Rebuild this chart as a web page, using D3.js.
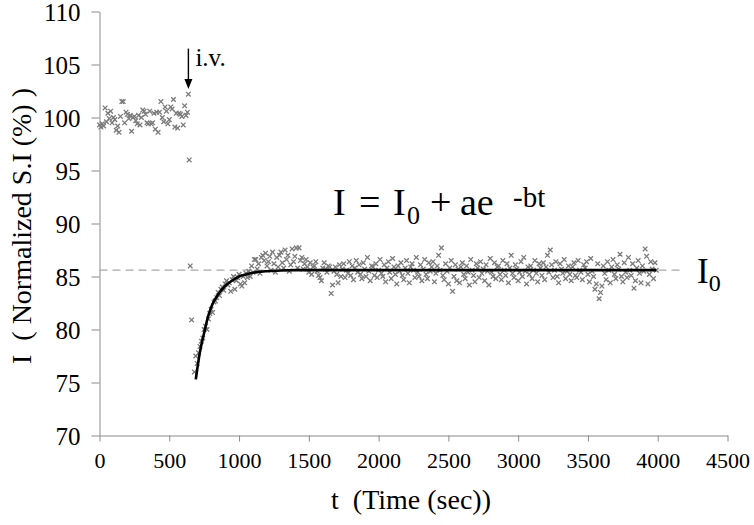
<!DOCTYPE html>
<html><head><meta charset="utf-8">
<script src="https://cdn.jsdelivr.net/npm/d3@7"></script>
<style>html,body{margin:0;padding:0;background:#fff}svg{display:block}</style>
</head><body>
<svg id="chart" width="754" height="525" font-family="'Liberation Serif', 'Times New Roman', serif"></svg>
<script>
// ---- data ----
const xTicks = [0,500,1000,1500,2000,2500,3000,3500,4000,4500];
const yTicks = [70,75,80,85,90,95,100,105,110];
const preStart = 0, preStep = 10;
const preValues = [99.3,99.1,99.4,99.2,100.9,99.6,100.4,99.9,100.6,99.5,100.0,99.8,98.8,99.2,98.6,100.1,101.5,101.5,99.5,100.5,100.3,99.9,100.2,98.7,100.0,100.1,99.7,99.4,100.2,99.3,100.0,100.7,100.6,100.3,99.5,99.4,100.6,99.4,99.5,100.4,98.9,100.5,98.6,100.5,101.5,100.0,99.6,101.0,100.6,99.4,99.8,101.0,100.8,101.7,99.1,100.4,99.0,100.4,100.3,100.1,99.3,101.1,100.2,100.5];
const transTimes = [637,643,650,660];
const transValues = [102.2,96.0,86.0,80.9];
const postStart = 680, postStep = 10;
const postValues = [
76.0,77.5,76.8,77.8,78.4,78.9,79.2,80.0,80.3,80.0,
81.0,81.5,81.9,81.6,82.6,82.7,83.0,83.5,83.2,83.8,
84.0,83.7,84.3,84.6,84.2,84.4,83.6,84.7,85.0,83.8,
84.6,84.9,85.2,84.3,84.1,85.0,84.4,85.3,84.9,85.5,
85.0,86.0,85.4,86.6,86.6,85.7,86.2,85.3,86.8,87.0,
86.5,87.2,86.0,86.4,86.9,85.6,87.3,86.2,85.4,86.8,
85.9,87.0,87.3,86.3,85.8,87.5,86.6,87.0,85.5,86.1,
87.6,86.4,86.9,87.7,85.8,87.7,86.5,86.8,85.7,86.2,
86.6,85.9,85.4,86.3,85.2,85.9,86.0,86.4,85.5,85.1,
84.9,84.6,85.8,86.3,85.7,85.4,86.0,85.9,83.4,84.2,
85.5,85.9,85.2,84.4,86.1,85.0,85.7,86.2,84.9,85.6,
85.3,86.4,85.1,86.0,84.7,85.8,86.5,85.4,86.1,85.2,
84.8,86.3,85.7,85.0,86.8,85.5,84.6,86.0,85.9,85.1,
86.2,84.9,85.6,86.6,85.3,85.0,86.1,84.5,85.8,86.4,
85.4,84.8,86.7,85.9,85.2,84.3,86.0,85.5,86.3,85.1,
84.7,85.8,86.5,85.3,84.4,85.9,86.2,85.6,84.9,86.8,
85.4,85.0,86.1,84.6,85.7,86.6,85.2,84.8,86.3,85.5,
85.9,86.4,84.5,85.3,86.0,87.0,85.6,87.7,85.1,84.7,
86.2,85.5,84.3,85.8,86.5,83.6,85.0,86.1,84.6,85.7,
84.4,85.9,86.3,85.2,84.8,86.0,85.4,84.2,86.6,85.6,
85.1,84.5,86.2,85.8,84.9,86.4,85.3,85.7,84.6,86.1,
85.5,84.2,86.7,85.4,85.0,86.3,84.8,85.9,86.0,85.2,
84.7,86.5,85.6,85.1,86.2,84.4,85.8,87.0,85.3,84.9,
86.1,85.7,84.6,85.4,86.4,85.0,86.8,85.5,84.3,85.9,
85.2,86.0,84.8,85.6,86.5,85.3,84.5,86.2,85.8,85.1,
86.3,84.7,85.9,87.0,85.4,87.5,86.1,84.9,85.6,86.4,
85.0,84.4,86.2,85.7,85.3,86.6,84.8,85.5,86.0,85.2,
84.6,85.9,86.3,85.1,84.9,86.5,85.6,85.4,84.7,86.1,
85.8,86.4,85.2,84.5,86.7,85.5,85.0,83.8,84.3,86.2,
82.9,83.5,84.1,86.0,85.3,84.7,86.4,85.6,84.4,85.9,
86.6,85.2,84.8,86.1,85.7,87.1,85.0,84.5,86.3,85.4,
84.9,86.8,85.6,85.1,86.2,83.9,84.6,85.8,86.5,85.3,
84.4,86.0,85.5,87.6,86.9,84.3,85.2,86.4,85.7,84.8,
86.3,85.6];
const fitTimes  = [690,720,750,780,810,850,900,950,1000,1050,1100,1200,1300,1400,1600,3990];
const fitValues = [75.3,77.9,79.7,81.3,82.4,83.3,84.1,84.6,85.0,85.2,85.35,85.5,85.57,85.6,85.6,85.6];
const baselineI0 = 85.6;
const baselineRange = [0,4170];
const ivTime = 637, ivFrom = 106.5, ivTo = 102.7;
const xTitle = "t  (Time (sec))";
const yTitle = "I  ( Normalized S.I (%) )";

// ---- drawing ----
const FONT = "'Liberation Serif', 'Times New Roman', serif";
const svg = d3.select("#chart");
const x = d3.scaleLinear().domain([0,4500]).range([99.5,727.5]);
const y = d3.scaleLinear().domain([70,110]).range([435.5,11.5]);
const axisColor = "#8a8a8a";

const points = [];
preValues.forEach((v,i)=>points.push([preStart+i*preStep,v]));
transTimes.forEach((t,i)=>points.push([t,transValues[i]]));
postValues.forEach((v,i)=>points.push([postStart+i*postStep,v]));

// axes
const gx = svg.append("g").attr("transform",`translate(0,${y(70)})`)
  .call(d3.axisBottom(x).tickValues(xTicks).tickSize(6).tickSizeOuter(0).tickPadding(11).tickFormat(d3.format("d")));
const gy = svg.append("g").attr("transform",`translate(${x(0)},0)`)
  .call(d3.axisLeft(y).tickValues(yTicks).tickSize(8).tickSizeOuter(0).tickPadding(11).tickFormat(d3.format("d")));
[gx,gy].forEach(g=>{
  g.attr("font-family",FONT);
  g.select(".domain").attr("stroke",axisColor).attr("stroke-width",1);
  g.selectAll(".tick line").attr("stroke",axisColor).attr("stroke-width",1);
  g.selectAll(".tick text").attr("fill","#000").attr("font-family",FONT);
});
gx.attr("font-size",22).selectAll(".tick text").attr("font-size",22);
gy.attr("font-size",25).selectAll(".tick text").attr("font-size",25).attr("dy","0.34em");

// dashed I0 line
svg.append("line")
  .attr("x1",x(baselineRange[0])).attr("x2",x(baselineRange[1]))
  .attr("y1",y(baselineI0)).attr("y2",y(baselineI0))
  .attr("stroke","#a8a8a8").attr("stroke-width",1.3).attr("stroke-dasharray","8,5");

// scatter markers
svg.append("g").selectAll("path").data(points).join("path")
  .attr("transform",d=>`translate(${x(d[0])},${y(d[1])})`)
  .attr("d","M-2.3,-2.3L2.3,2.3M-2.3,2.3L2.3,-2.3")
  .attr("stroke","#7b7b7b").attr("stroke-width",1.3).attr("fill","none");

// fit curve
svg.append("path")
  .datum(fitTimes.map((t,i)=>[t,fitValues[i]]))
  .attr("d",d3.line().x(d=>x(d[0])).y(d=>y(d[1])).curve(d3.curveMonotoneX))
  .attr("fill","none").attr("stroke","#000").attr("stroke-width",2.6);

// i.v. arrow
svg.append("line").attr("x1",x(ivTime)).attr("x2",x(ivTime))
  .attr("y1",y(ivFrom)).attr("y2",y(ivTo)-8).attr("stroke","#000").attr("stroke-width",1.4);
svg.append("path")
  .attr("d",`M${x(ivTime)-4},${y(ivTo)-10}L${x(ivTime)+4},${y(ivTo)-10}L${x(ivTime)},${y(ivTo)}Z`)
  .attr("fill","#000");
svg.append("text").attr("x",x(ivTime)+7).attr("y",66).attr("font-family",FONT).attr("font-size",25).text("i.v.");

// equation
const eq = svg.append("text").attr("y",215).attr("font-family",FONT).attr("font-size",38);
eq.append("tspan").attr("x",333).text("I");
eq.append("tspan").attr("x",359).text("=");
eq.append("tspan").attr("x",393).text("I");
eq.append("tspan").attr("x",407).attr("y",224).attr("font-size",26).text("0");
eq.append("tspan").attr("x",430).attr("y",215).text("+");
eq.append("tspan").attr("x",460).text("ae");
eq.append("tspan").attr("x",513).attr("y",207).attr("font-size",29).text("-bt");

// I0 label
const lab = svg.append("text").attr("x",697).attr("y",283).attr("font-family",FONT).attr("font-size",35);
lab.append("tspan").text("I");
lab.append("tspan").attr("dy",8).attr("font-size",24).text("0");

// axis titles
svg.append("text").attr("x",411).attr("y",509).attr("text-anchor","middle")
  .attr("font-family",FONT).attr("font-size",28).style("white-space","pre").text(xTitle);
svg.append("text").attr("transform","translate(31,226) rotate(-90)").attr("text-anchor","middle")
  .attr("font-family",FONT).attr("font-size",28).style("white-space","pre").text(yTitle);
</script>
</body></html>
